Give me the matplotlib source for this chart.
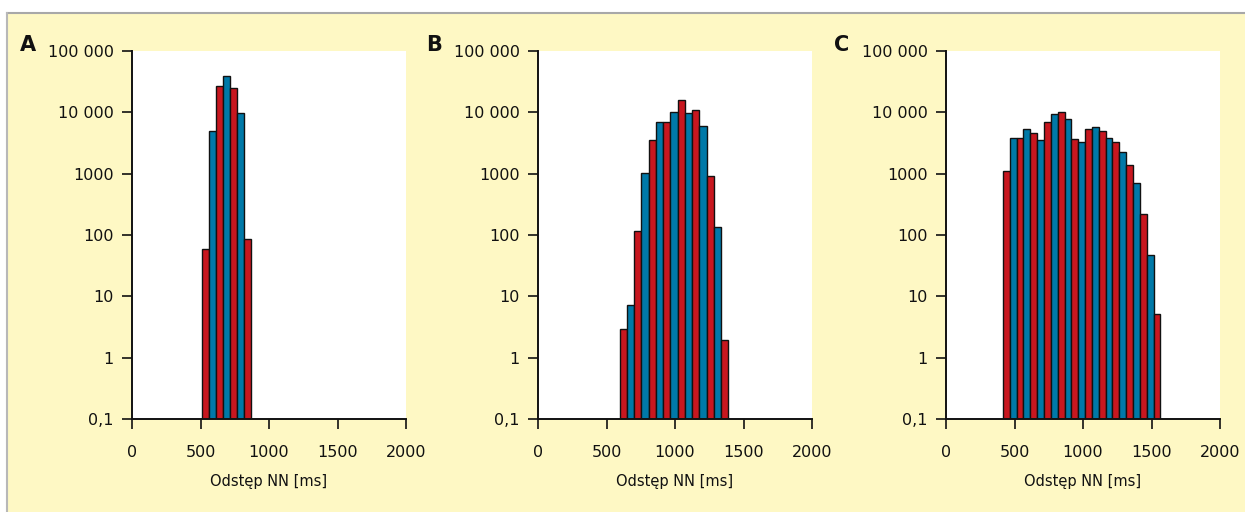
import numpy as np
import matplotlib.pyplot as plt
from matplotlib.patches import Rectangle
from matplotlib.ticker import FixedLocator, NullLocator

# ======== DATA ========

panel_labels = ["A", "B", "C"]

# histogram counts per 50 ms bin (approx.), left to right
counts_a = [60, 5000, 27000, 38500, 25000, 9600, 85]
counts_b = [2.9, 7.2, 117, 1010, 3500, 6900, 6900, 10200, 15900, 9900,
            11000, 6000, 920, 133, 1.95]
counts_c = [1120, 3850, 3850, 5300, 4600, 3600, 7000, 9300, 10200, 7700,
            3700, 3300, 5400, 5800, 4900, 3750, 3300, 2250, 1400, 710,
            220, 48, 5.2]

# first bin edge and bin width [ms] per panel
bin_start = [510, 595, 415]
bin_width = [51, 53, 50]

x_ticks = [0, 500, 1000, 1500, 2000]
y_ticks = [0.1, 1, 10, 100, 1000, 10000, 100000]
y_ticklabels = ["0,1", "1", "10", "100", "1000", "10 000", "100 000"]
x_label = "Odstęp NN [ms]"

# ======== STYLE ========
bg_yellow = "#FEF8C4"
red = "#C8171F"
blue = "#0079A8"

W, H = 1245, 512
fig = plt.figure(figsize=(W / 100, H / 100), dpi=100)
fig.patch.set_facecolor("white")

# yellow box with grey top/left border (behind the axes)
fig.patches.append(Rectangle((7 / W, 0), 1, 1 - 13 / H, transform=fig.transFigure,
                             facecolor=bg_yellow, edgecolor="none", zorder=-10))
fig.add_artist(plt.Line2D([6.5 / W, 1], [1 - 12.5 / H] * 2, transform=fig.transFigure,
                          color="#A8A8A8", lw=1.5, zorder=-9))
fig.add_artist(plt.Line2D([6.5 / W] * 2, [0, 1 - 12.5 / H], transform=fig.transFigure,
                          color="#B8B8B8", lw=1.5, zorder=-9))

axes_left_px = [132, 538, 946]
ax_w, ax_top, ax_bot = 274, 51, 419

all_counts = [counts_a, counts_b, counts_c]

for k in range(3):
    left = axes_left_px[k]
    ax = fig.add_axes([left / W, 1 - ax_bot / H, ax_w / W, (ax_bot - ax_top) / H])
    ax.set_facecolor("white")

    counts = all_counts[k]
    n = len(counts)
    edges = bin_start[k] + bin_width[k] * np.arange(n)
    colors = [red if i % 2 == 0 else blue for i in range(n)]
    ax.bar(edges, np.array(counts) - 0.1, bottom=0.1, width=bin_width[k], align="edge",
           color=colors, edgecolor="#111111", linewidth=1.0, zorder=2)

    ax.set_yscale("log")
    ax.set_ylim(0.1, 100000)
    ax.set_xlim(0, 2000)
    ax.yaxis.set_major_locator(FixedLocator(y_ticks))
    ax.yaxis.set_minor_locator(NullLocator())
    ax.set_yticklabels(y_ticklabels)
    ax.set_xticks(x_ticks)
    ax.set_xticklabels([str(t) for t in x_ticks])

    for s in ["top", "right"]:
        ax.spines[s].set_visible(False)
    for s in ["left", "bottom"]:
        ax.spines[s].set_linewidth(1.4)
        ax.spines[s].set_color("#111111")
        ax.spines[s].set_zorder(3)

    ax.tick_params(axis="y", direction="out", length=7, width=1.2, pad=6,
                   labelsize=11.5, colors="#111111")
    ax.tick_params(axis="x", direction="out", length=7, width=1.2, pad=12,
                   labelsize=11.5, colors="#111111")
    ax.set_xlabel(x_label, fontsize=10.5, labelpad=10, color="#111111")

    # panel letter
    fig.text((left - 112) / W, 1 - 45 / H, panel_labels[k], fontsize=15,
             fontweight="bold", ha="left", va="center", color="#111111")

plt.savefig("out.png", dpi=100, facecolor=fig.get_facecolor())
